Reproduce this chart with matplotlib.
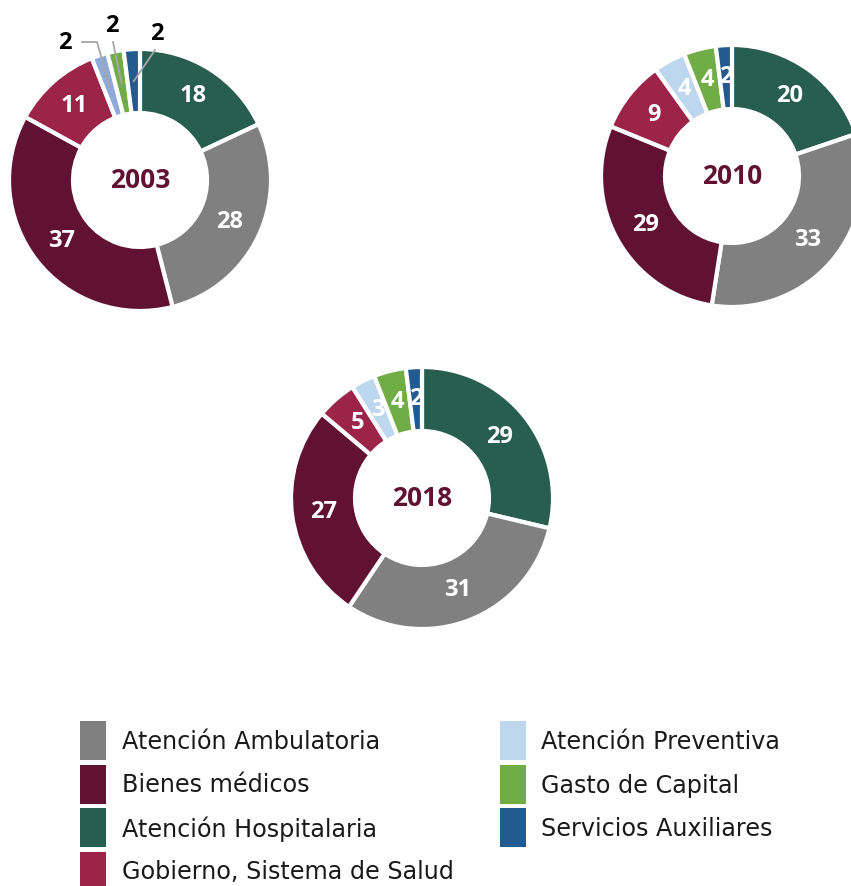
import numpy as np
import matplotlib
matplotlib.use("Agg")
from matplotlib import pyplot as plt
from matplotlib.patches import Rectangle

# categories in drawing order (clockwise from 12 o'clock)
categories = ["Atención Hospitalaria", "Atención Ambulatoria", "Bienes médicos",
              "Gobierno, Sistema de Salud", "Atención Preventiva", "Gasto de Capital",
              "Servicios Auxiliares"]
colors = ["#275e4d", "#808080", "#611232", "#9d2449", "#bdd7ee", "#70ad47", "#235b8e"]
colors_2003 = ["#275e4d", "#808080", "#611232", "#9d2449", "#8eaadb", "#70ad47", "#235b8e"]

values_2003 = [18, 28, 37, 11, 2, 2, 2]
values_2010 = [20, 33, 29, 9, 4, 4, 2]
values_2018 = [29, 31, 27, 5, 3, 4, 2]

# legend order
legend_left = ["Atención Ambulatoria", "Bienes médicos", "Atención Hospitalaria",
               "Gobierno, Sistema de Salud"]
legend_right = ["Atención Preventiva", "Gasto de Capital", "Servicios Auxiliares"]

W, H = 851, 886
MAROON = "#611232"
plt.rcParams['font.family'] = ['Open Sans', 'DejaVu Sans']


def donut(ax, values, cols, cx, cy, year, outside_small=False):
    R, r = 131, 67
    cy = H - cy
    wedges, _ = ax.pie(values, colors=cols, startangle=90, counterclock=False,
                       radius=R, center=(cx, cy), frame=True,
                       wedgeprops=dict(width=R - r, edgecolor="white", linewidth=3))
    rm = (R + r) / 2
    for w, v in zip(wedges, values):
        ang = np.deg2rad((w.theta1 + w.theta2) / 2)
        x, y = cx + rm * np.cos(ang), cy + rm * np.sin(ang)
        if outside_small and v <= 2:
            continue
        ax.text(x, y, str(v), color="white", fontsize=17, fontweight="bold",
                ha="center", va="center")
    ax.text(cx, cy, year, color=MAROON, fontsize=19, fontweight="bold",
            ha="center", va="center")
    return wedges, rm


fig = plt.figure(figsize=(W / 100, H / 100), dpi=100)
ax = fig.add_axes([0, 0, 1, 1])

w03, rm = donut(ax, values_2003, colors_2003, 140, 180, "2003", outside_small=True)
donut(ax, values_2010, colors, 732, 176, "2010")
donut(ax, values_2018, colors, 422, 498, "2018")

# leader labels for the small 2003 slices
label_pos = [(65, 43), (112, 26), (157, 34)]
elbows = [(97, 42), None, None]
for w, v, (tx, ty), el in zip(w03[4:], values_2003[4:], label_pos, elbows):
    ang = np.deg2rad((w.theta1 + w.theta2) / 2)
    px, py = 140 + rm * np.cos(ang), (H - 180) + rm * np.sin(ang)
    ax.text(tx, H - ty, str(v), color="black", fontsize=17, fontweight="bold",
            ha="center", va="center")
    if el is not None:
        xs = [82, el[0], px]
        ys = [H - el[1], H - el[1], py]
    else:
        xs = [tx + (1 if tx < 140 else -2), px]
        ys = [H - ty - 16, py]
    ax.plot(xs, ys, color="#a6a6a6", lw=1.3)

# legend
rows = [721, 764.5, 808, 851.5]
for i, name in enumerate(legend_left):
    c = colors[categories.index(name)]
    ax.add_patch(Rectangle((80, H - rows[i] - 39), 26, 39, color=c, lw=0))
    ax.text(122, H - rows[i] - 21, name, fontsize=17.2, color="#1a1a1a",
            ha="left", va="center", family="DejaVu Sans")
for i, name in enumerate(legend_right):
    c = colors[categories.index(name)]
    ax.add_patch(Rectangle((500, H - rows[i] - 39), 26, 39, color=c, lw=0))
    ax.text(541, H - rows[i] - 21, name, fontsize=17.2, color="#1a1a1a",
            ha="left", va="center", family="DejaVu Sans")

ax.set_xlim(0, W)
ax.set_ylim(0, H)
ax.set_aspect("auto")
ax.axis("off")

fig.savefig("out.png", dpi=100)
